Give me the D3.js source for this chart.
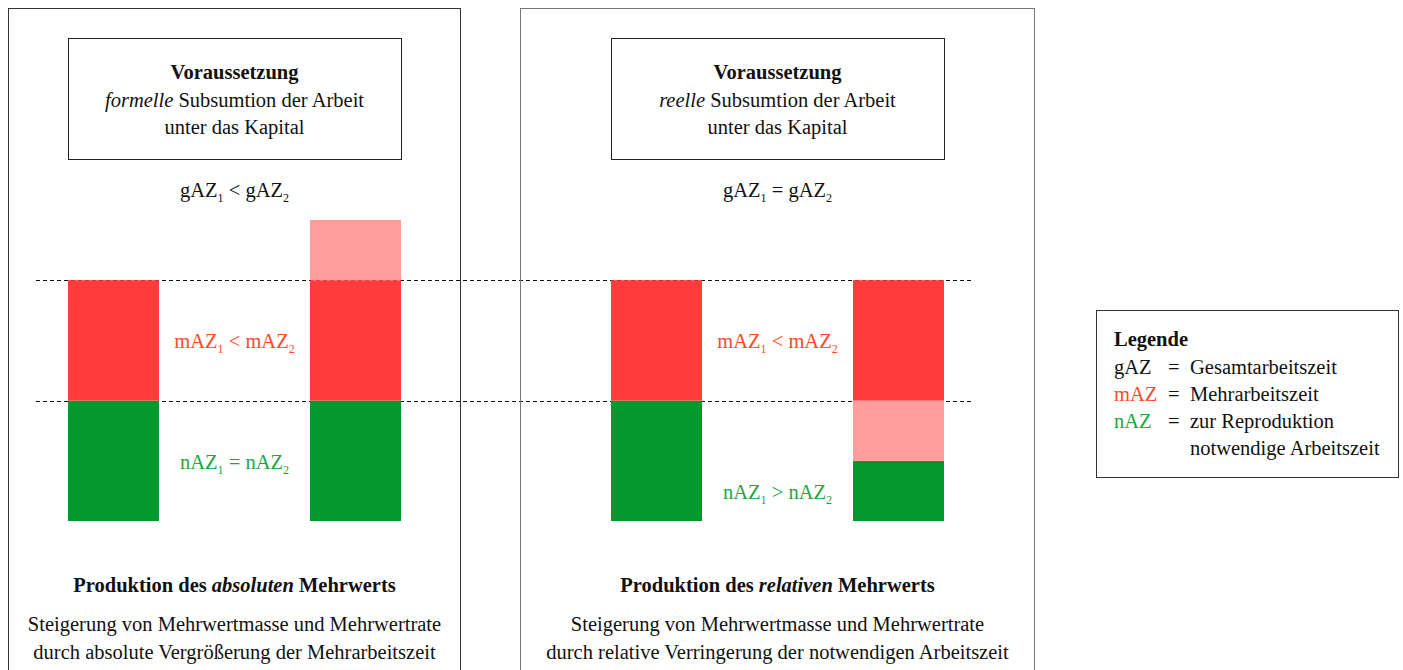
<!DOCTYPE html>
<html>
<head>
<meta charset="utf-8">
<script src="https://cdn.jsdelivr.net/npm/d3@7"></script>
<style>
  body { margin: 0; background: #fff; }
  svg { font-family: "Liberation Serif", "DejaVu Serif", serif; }
</style>
</head>
<body>
<div id="chart"></div>
<script>
// Arbeitszeit in Stunden, je Panel zwei Balken (vorher / nachher)
const panels = ['formelle', 'reelle'];
const adjective = ['absoluten', 'relativen'];
const descLines = [
  ['Steigerung von Mehrwertmasse und Mehrwertrate', 'durch absolute Vergrößerung der Mehrarbeitszeit'],
  ['Steigerung von Mehrwertmasse und Mehrwertrate', 'durch relative Verringerung der notwendigen Arbeitszeit'],
];
const gazRel = ['<', '='];
const mazRel = ['<', '<'];
const nazRel = ['=', '>'];
const bars = ['1', '2'];
// Segmente von unten nach oben
const stackKeys = [
  [['nAZ', 'mAZ'], ['nAZ', 'mAZ', 'plus']],
  [['nAZ', 'mAZ'], ['nAZ', 'plus', 'mAZ']],
];
const stackValues = [
  [[6, 6], [6, 6, 3]],
  [[6, 6], [3, 3, 6]],
];
const dashLevels = [6, 12];
const legendRows = [
  ['gAZ', 'Gesamtarbeitszeit'],
  ['mAZ', 'Mehrarbeitszeit'],
  ['nAZ', 'zur Reproduktion', 'notwendige Arbeitszeit'],
];

const colors = { nAZ: '#07972f', mAZ: '#ff3b3b', plus: '#ff9c9c' };
const textColors = { gAZ: '#111', mAZ: '#ff4a26', nAZ: '#1aa83e' };
const fs = 20.5;

const W = 1403, H = 670;
const svg = d3.select('#chart').append('svg')
  .attr('width', W).attr('height', H)
  .attr('fill', '#111');

const y = d3.scaleLinear().domain([0, 15]).range([521, 220]);

const panelBox = [{ x: 8.5, w: 452 }, { x: 520.5, w: 514 }];
const contentW = 333;

// dashed reference lines across both panels
svg.selectAll('line.dash').data(dashLevels).join('line')
  .attr('class', 'dash')
  .attr('x1', 36).attr('x2', 973)
  .attr('y1', d => Math.round(y(d)) + 0.5).attr('y2', d => Math.round(y(d)) + 0.5)
  .attr('stroke', '#111').attr('stroke-width', 1)
  .attr('stroke-dasharray', '4,3');

function relText(sel, name, rel, color) {
  sel.attr('fill', color);
  sel.append('tspan').text(name);
  sel.append('tspan').text('1').attr('font-size', 12).attr('dy', 5);
  sel.append('tspan').text(' ' + rel + ' ').attr('dy', -5);
  sel.append('tspan').text(name);
  sel.append('tspan').text('2').attr('font-size', 12).attr('dy', 5);
}

panels.forEach((p, i) => {
  const pb = panelBox[i];
  const cx = pb.x + pb.w / 2;
  const g = svg.append('g');

  g.append('rect')
    .attr('x', pb.x).attr('y', 8.5).attr('width', pb.w).attr('height', 700)
    .attr('fill', 'none').attr('stroke', i === 0 ? '#333' : '#777');

  const left = Math.round(cx - contentW / 2);
  const x = d3.scaleBand().domain(bars).range([left, left + contentW])
    .paddingInner(0.624).paddingOuter(0);

  // Voraussetzung box
  g.append('rect')
    .attr('x', left + 0.5).attr('y', 38.5).attr('width', contentW).attr('height', 121)
    .attr('fill', 'none').attr('stroke', '#222');
  g.append('text').attr('x', cx).attr('y', 79).attr('text-anchor', 'middle')
    .attr('font-size', fs).attr('font-weight', 'bold').text('Voraussetzung');
  const t2 = g.append('text').attr('x', cx).attr('y', 107).attr('text-anchor', 'middle')
    .attr('font-size', fs);
  t2.append('tspan').attr('font-style', 'italic').text(p);
  t2.append('tspan').text(' Subsumtion der Arbeit');
  g.append('text').attr('x', cx).attr('y', 134).attr('text-anchor', 'middle')
    .attr('font-size', fs).text('unter das Kapital');

  g.append('text').attr('x', cx).attr('y', 197).attr('text-anchor', 'middle')
    .attr('font-size', fs).call(relText, 'gAZ', gazRel[i], textColors.gAZ);

  // stacked bars
  bars.forEach((b, j) => {
    let base = 0;
    stackKeys[i][j].forEach((k, s) => {
      const v = stackValues[i][j][s];
      g.append('rect')
        .attr('x', x(b)).attr('width', x.bandwidth())
        .attr('y', y(base + v)).attr('height', y(base) - y(base + v))
        .attr('fill', colors[k]);
      base += v;
    });
  });

  g.append('text').attr('x', cx).attr('y', 348).attr('text-anchor', 'middle')
    .attr('font-size', fs).call(relText, 'mAZ', mazRel[i], textColors.mAZ);
  g.append('text').attr('x', cx).attr('y', i === 0 ? 469 : 499).attr('text-anchor', 'middle')
    .attr('font-size', fs).call(relText, 'nAZ', nazRel[i], textColors.nAZ);

  const t3 = g.append('text').attr('x', cx).attr('y', 592).attr('text-anchor', 'middle')
    .attr('font-size', fs).attr('font-weight', 'bold');
  t3.append('tspan').text('Produktion des ');
  t3.append('tspan').attr('font-style', 'italic').text(adjective[i]);
  t3.append('tspan').text(' Mehrwerts');

  descLines[i].forEach((l, k) => {
    g.append('text').attr('x', cx).attr('y', 631 + k * 28).attr('text-anchor', 'middle')
      .attr('font-size', fs).text(l);
  });
});

// Legende
const lg = svg.append('g');
lg.append('rect').attr('x', 1096.5).attr('y', 310.5).attr('width', 302).attr('height', 167)
  .attr('fill', 'none').attr('stroke', '#333');
lg.append('text').attr('x', 1114).attr('y', 346).attr('font-size', fs)
  .attr('font-weight', 'bold').text('Legende');
let ly = 374;
legendRows.forEach(r => {
  lg.append('text').attr('x', 1114).attr('y', ly).attr('font-size', fs)
    .attr('fill', textColors[r[0]]).text(r[0]);
  lg.append('text').attr('x', 1168).attr('y', ly).attr('font-size', fs).text('=');
  r.slice(1).forEach((s, k) => {
    lg.append('text').attr('x', 1190).attr('y', ly + k * 27).attr('font-size', fs).text(s);
  });
  ly += 27;
});
</script>
</body>
</html>
